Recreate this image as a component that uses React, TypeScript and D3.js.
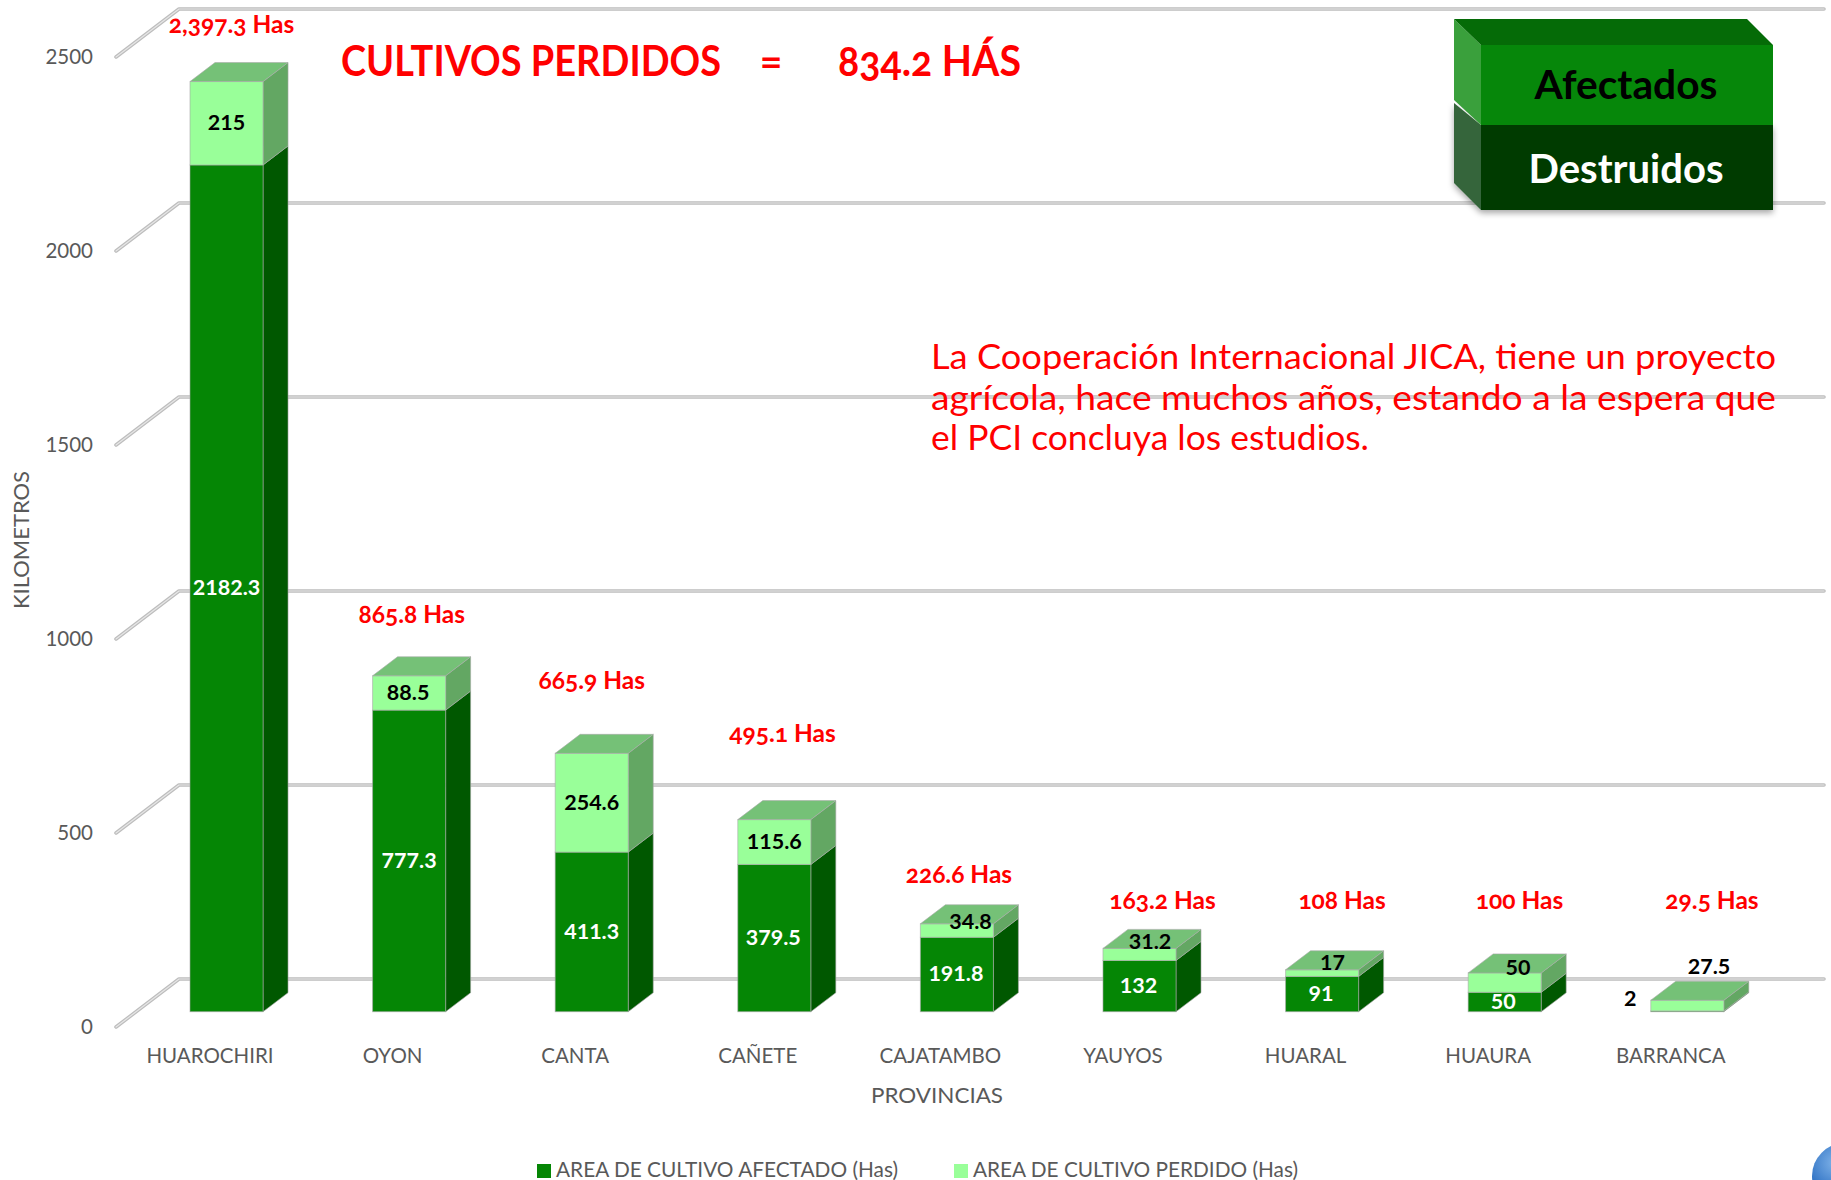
import React from "react";
import * as d3 from "d3";

const provinces = ["HUAROCHIRI", "OYON", "CANTA", "CAÑETE", "CAJATAMBO", "YAUYOS", "HUARAL", "HUAURA", "BARRANCA"];
const affected = [2182.3, 777.3, 411.3, 379.5, 191.8, 132, 91, 50, 2];
const lost = [215, 88.5, 254.6, 115.6, 34.8, 31.2, 17, 50, 27.5];
const totalLabels = ["2,397.3 Has", "865.8 Has", "665.9 Has", "495.1 Has", "226.6 Has", "163.2 Has", "108 Has", "100 Has", "29.5 Has"];
const totals = [2397.3, 865.8, 665.9, 495.1, 226.6, 163.2, 108, 100, 29.5];
const yTicks = [0, 500, 1000, 1500, 2000, 2500];
const seriesNames = ["AREA DE CULTIVO AFECTADO (Has)", "AREA DE CULTIVO PERDIDO (Has)"];
const noteLines = [
  "La Cooperación Internacional JICA, tiene un proyecto",
  "agrícola, hace muchos años, estando a la espera que",
  "el PCI concluya los estudios.",
];

// label nudges (px) relative to the scale-derived anchor
const totalNudge = [[5, -48.5], [2.6, -52.8], [0, -64.3], [8.2, -77.6], [2, -40.8], [23, -39.4], [20, -60.8], [14.8, -63.9], [24.7, -91.3]];
const lostNudge = [[0, 0], [-1, 0], [0, 0], [0, 0], [13.6, -8.5], [10.5, -12.5], [10.4, -10], [13.3, -14.6], [21.7, -38.6]];
const affectedNudge = [[0, 0], [0, 0], [0, 0], [-1, 0], [-1, 0], [-1, 0], [-1, 0], [-1.5, 0], [-57, -12]];

const SANS = "Lato, Carlito, 'Open Sans', sans-serif";
const GREY = "#595959";
const RED = "#ff0000";
const DEPTH = { dx: 25, dy: -19 };
const WALL = { frontX: 116, backX: 179, frontDy: 15.3, backDy: -32.7, right: 1824 };
const COL = {
  dark: { front: "#058605", side: "#005800" },
  light: { front: "#99ff99", side: "#63a763", top: "#75c177" },
};

const x = d3.scaleBand<string>().domain(provinces).range([190, 1723.8]).paddingInner(0.6).paddingOuter(0);
const y = d3.scaleLinear().domain([0, 2500]).range([1011.7, 41.7]);
const line = d3.line();

function Segment({ left, w, y0, y1, c }: any) {
  const f = (pts: [number, number][]) => line(pts) + "Z";
  return (
    <g stroke="#a9a9a9" strokeOpacity={0.6} strokeWidth={1}>
      <path d={f([[left + w, y0], [left + w + DEPTH.dx, y0 + DEPTH.dy], [left + w + DEPTH.dx, y1 + DEPTH.dy], [left + w, y1]])} fill={c.side} />
      <rect x={left} y={y1} width={w} height={y0 - y1} fill={c.front} />
    </g>
  );
}

function T({ x: px, y: py, size, fill = "#000", weight = 700, anchor = "middle", children, len, ...rest }: any) {
  return (
    <text
      x={px}
      y={py}
      fontSize={size}
      fill={fill}
      fontWeight={weight}
      textAnchor={anchor}
      fontFamily={SANS}
      {...(len ? { textLength: len, lengthAdjust: "spacingAndGlyphs" } : {})}
      {...rest}
    >
      {children}
    </text>
  );
}

export default function App() {
  const w = x.bandwidth();
  return (
    <svg width={1831} height={1180} viewBox="0 0 1831 1180" style={{ position: "absolute", left: 0, top: 0, display: "block" }}>
      <defs>
        <filter id="cubeShadow" x="-10%" y="-10%" width="120%" height="130%">
          <feDropShadow dx={0} dy={3} stdDeviation={3} floodColor="#000" floodOpacity={0.35} />
        </filter>
        <radialGradient id="ball" cx="35%" cy="30%" r="75%">
          <stop offset="0%" stopColor="#7fb2e8" />
          <stop offset="60%" stopColor="#2f72c4" />
          <stop offset="100%" stopColor="#1b4f94" />
        </radialGradient>
      </defs>
      <rect width={1831} height={1180} fill="#fff" />

      {/* gridlines and wall */}
      {yTicks.map((t) => {
        const pts = line([
          [WALL.frontX, y(t) + WALL.frontDy],
          [WALL.backX, y(t) + WALL.backDy],
          [WALL.right, y(t) + WALL.backDy],
        ]) as string;
        return (
          <g key={t} fill="none" strokeLinejoin="round" strokeLinecap="round">
            <path d={pts} stroke="#bdbdbd" strokeWidth={3.6} />
            <path d={pts} stroke="#e6e6e6" strokeWidth={1.2} />
          </g>
        );
      })}

      {/* tick labels */}
      {yTicks.map((t) => (
        <T key={t} x={93} y={y(t) + WALL.frontDy + 7} size={20.5} fill={GREY} weight={400} anchor="end">
          {t}
        </T>
      ))}

      {/* bars */}
      {provinces.map((p, i) => {
        const left = x(p) as number;
        const a = affected[i];
        const top = y(a + lost[i]);
        return (
          <g key={p}>
            <Segment left={left} w={w} y0={y(0)} y1={y(a)} c={COL.dark} />
            <Segment left={left} w={w} y0={y(a)} y1={top} c={COL.light} />
            <path
              d={line([[left, top], [left + DEPTH.dx, top + DEPTH.dy], [left + w + DEPTH.dx, top + DEPTH.dy], [left + w, top]]) + "Z"}
              fill={COL.light.top}
              stroke="#a9a9a9"
              strokeOpacity={0.6}
            />
          </g>
        );
      })}

      {/* value labels */}
      {provinces.map((p, i) => {
        const cx = (x(p) as number) + w / 2;
        const a = affected[i];
        const midA = (y(0) + y(a)) / 2 + 7;
        const midL = (y(a) + y(a + lost[i])) / 2 + 7;
        return (
          <g key={p}>
            <T x={cx + affectedNudge[i][0]} y={midA + affectedNudge[i][1]} size={21.5} fill={a < 10 ? "#000" : "#fff"}>
              {a}
            </T>
            <T x={cx + lostNudge[i][0]} y={midL + lostNudge[i][1]} size={21.5}>
              {lost[i]}
            </T>
            <T x={cx + totalNudge[i][0]} y={y(totals[i]) + totalNudge[i][1]} size={24.5} fill={RED} style={{ fontFeatureSettings: "'onum'" }}>
              {totalLabels[i]}
            </T>
          </g>
        );
      })}

      {/* category labels */}
      {provinces.map((p) => (
        <T key={p} x={(x(p) as number) + 20} y={1063} size={20.5} fill={GREY} weight={400}>
          {p}
        </T>
      ))}

      {/* axis titles */}
      <T x={937} y={1103} size={22} fill={GREY} weight={400} len={132}>PROVINCIAS</T>
      <T x={0} y={0} size={22} fill={GREY} weight={400} len={138} transform="translate(29,540) rotate(-90)">KILOMETROS</T>

      {/* legend */}
      {seriesNames.map((s, i) => {
        const sx = [537, 954][i];
        return (
          <g key={s}>
            <rect x={sx} y={1164} width={14} height={14} fill={i === 0 ? COL.dark.front : COL.light.front} />
            <T x={sx + 19} y={1177} size={21} fill={GREY} weight={400} anchor="start" len={[342, 325][i]}>{s}</T>
          </g>
        );
      })}

      {/* headline */}
      <T x={341} y={76} size={42} fill={RED} anchor="start" len={380}>CULTIVOS PERDIDOS</T>
      <T x={771} y={76} size={39} fill={RED}>=</T>
      <T x={838} y={76} size={42} fill={RED} anchor="start" len={183} style={{ fontFeatureSettings: "'onum'" }}>834.2 HÁS</T>

      {/* note */}
      {noteLines.map((l, i) => (
        <T key={i} x={931} y={369 + i * 40.5} size={35} fill={RED} weight={400} anchor="start" len={[845, 845, 438][i]}>
          {l}
        </T>
      ))}

      {/* block legend */}
      <g filter="url(#cubeShadow)">
        <path d={line([[1454, 103], [1481, 125], [1481, 210], [1454, 183]]) + "Z"} fill="#35653a" />
        <rect x={1481} y={125} width={292} height={85} fill="#033a03" />
      </g>
      <g>
        <path d={line([[1454, 19], [1481, 45], [1481, 125], [1454, 100]]) + "Z"} fill="#3aa03c" />
        <path d={line([[1454, 19], [1747, 19], [1773, 45], [1481, 45]]) + "Z"} fill="#056b07" />
        <rect x={1481} y={45} width={292} height={80} fill="#06870a" />
      </g>
      <T x={1626} y={99} size={40} fill="#000" len={183}>Afectados</T>
      <T x={1626} y={183} size={40} fill="#fff" len={195}>Destruidos</T>

      {/* corner ball */}
      <circle cx={1845} cy={1176} r={33} fill="url(#ball)" />
    </svg>
  );
}
